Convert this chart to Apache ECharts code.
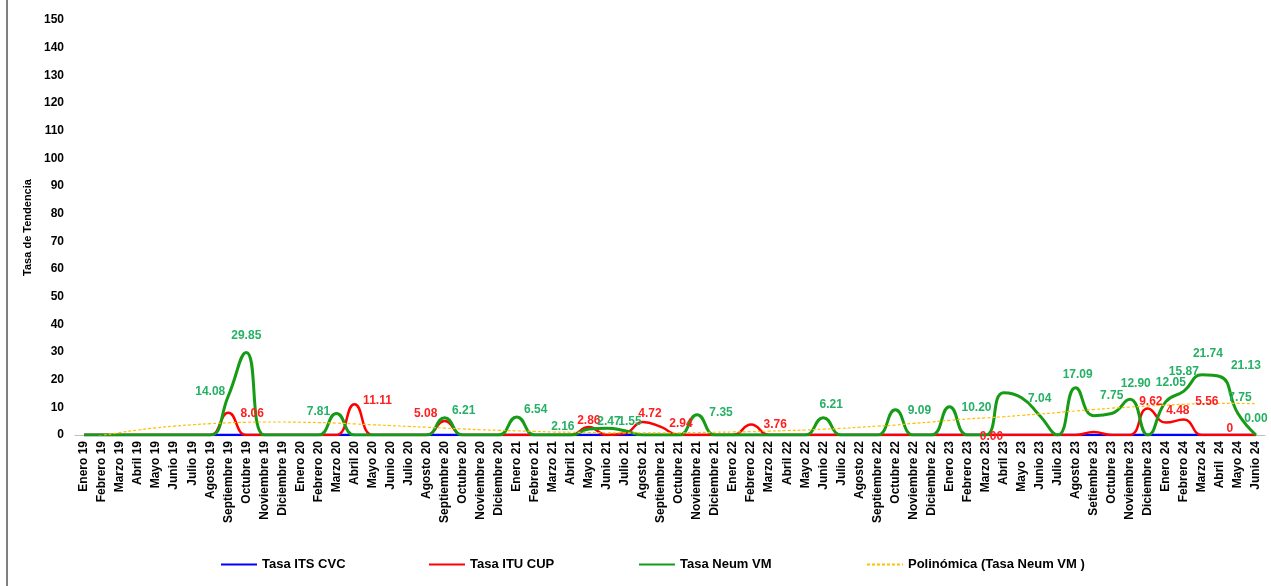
<!DOCTYPE html>
<html>
<head>
<meta charset="utf-8">
<script src="https://cdn.jsdelivr.net/npm/echarts@6/dist/echarts.min.js"></script>
<style>
html,body{margin:0;padding:0;background:#fff;}
#chart{width:1271px;height:586px;}
</style>
</head>
<body>
<div id="chart"></div>
<script>
const categories = ['Enero 19','Febrero 19','Marzo 19','Abril 19','Mayo 19','Junio 19','Julio 19','Agosto 19','Septiembre 19','Octubre 19','Noviembre 19','Diciembre 19',
'Enero 20','Febrero 20','Marzo 20','Abril 20','Mayo 20','Junio 20','Julio 20','Agosto 20','Septiembre 20','Octubre 20','Noviembre 20','Diciembre 20',
'Enero 21','Febrero 21','Marzo 21','Abril 21','Mayo 21','Junio 21','Julio 21','Agosto 21','Septiembre 21','Octubre 21','Noviembre 21','Diciembre 21',
'Enero 22','Febrero 22','Marzo 22','Abril 22','Mayo 22','Junio 22','Julio 22','Agosto 22','Septiembre 22','Octubre 22','Noviembre 22','Diciembre 22',
'Enero 23','Febrero 23','Marzo 23','Abril 23','Mayo  23','Junio 23','Julio 23','Agosto 23','Setiembre 23','Octubre 23','Noviembre 23','Diciembre 23',
'Enero 24','Febrero 24','Marzo 24','Abril  24','Mayo 24','Junio 24'];

const itsCvc = [0,0,0,0,0,0,0,0,0,0,0,0,
 0,0,0,0,0,0,0,0,0,0,0,0,
 0,0,0,0,0,0,0,0,0,0,0,0,
 0,0,0,0,0,0,0,0,0,0,0,0,
 0,0,0,0,0,0,0,0,0,0,0,0,
 0,0,0,0,0,0];

const ituCup = [0,0,0,0,0,0,0,0,8.06,0,0,0,
 0,0,0,11.11,0,0,0,0,5.08,0,0,0,
 0,0,0,0,2.86,0,0.6,4.72,2.94,0,0,0,
 0,3.76,0,0,0,0,0,0,0,0,0,0,
 0,0,0.00,0,0,0,0,0,1.1,0,0,9.62,
 4.48,5.56,0,0,0,0];

const neumVm = [0,0,0,0,0,0,0,0,14.08,29.85,0,0,
 0,0,7.81,0,0,0,0,0,6.21,0,0,0,
 6.54,0,0,0,2.16,2.47,1.55,0,0,0,7.35,0,
 0,0,0,0,0,6.21,0,0,0,9.09,0,0,
 10.20,0,0,15.3,13.5,7.04,0,17.09,7.0,7.75,12.90,0,
 12.05,15.87,21.74,21.13,7.75,0.00];

const trendNeum = [-1.5,-0.2,0.9,1.8,2.6,3.2,3.7,4.1,4.4,4.6,4.7,4.7,
 4.6,4.5,4.3,4.0,3.7,3.4,3.1,2.8,2.5,2.2,1.9,1.7,
 1.5,1.3,1.1,1.0,0.9,0.8,0.8,0.8,0.8,0.8,0.9,1.0,
 1.1,1.2,1.4,1.6,1.8,2.1,2.4,2.8,3.2,3.6,4.2,4.7,
 5.3,5.8,6.2,6.6,7.1,7.6,8.1,8.7,9.2,9.7,10.1,10.5,
 10.8,11.1,11.3,11.4,11.4,11.3];

const yTicks = [0,10,20,30,40,50,60,70,80,90,100,110,120,130,140,150];

// which points carry a data label
const neumLabeled = [8,9,14,20,24,28,29,30,34,41,45,48,53,55,57,58,60,61,62,63,64,65];
const ituLabeled = [8,15,20,28,31,32,37,50,59,60,61,63];
const ituPlainLabels = [63];

// label placement tweaks (layout, not data)
const neumOffsets = {8:[-18,7],9:[0,-5],14:[-18,10],20:[19,4],24:[19,4],28:[-26,9],29:[2,5],30:[5,2],34:[24,10],41:[8,-2],45:[24,12],48:[27,12],53:[0,-5],55:[2,-2],57:[0,-6],58:[6,-4],60:[5,-7],61:[0,-8],62:[6,-10],63:[26,1],64:[2,-4],65:[0,-5]};
const ituOffsets = {8:[24,12],15:[23,8],20:[-19,4],28:[0,5],31:[7,3],32:[20,8],37:[24,12],50:[6,13],59:[3,5],60:[12,0],61:[23,-6],63:[10,5]};

const FONT = 'Liberation Sans';

function buildData(values, labeled, offsets, plain, color) {
  return values.map(function(v, i) {
    const item = { value: v, symbol: 'none' };
    if (labeled.indexOf(i) >= 0) {
      const txt = (plain && plain.indexOf(i) >= 0) ? String(v) : v.toFixed(2);
      item.symbol = 'circle';
      item.symbolSize = 1;
      item.label = {
        show: true, position: 'top', distance: 5,
        offset: offsets[i] || [0,0],
        formatter: txt,
        color: color, fontWeight: 'bold', fontSize: 12, fontFamily: FONT
      };
    }
    return item;
  });
}

const chart = echarts.init(document.getElementById('chart'), null, {renderer:'canvas'});
const legendBase = {
  itemWidth: 36, itemHeight: 14, itemGap: 4, padding: 0,
  itemStyle: {color: 'transparent', borderWidth: 0, opacity: 0},
  textStyle: {fontFamily: FONT, fontWeight: 'bold', fontSize: 13, color: '#000'}
};
const option = {
  animation: false,
  backgroundColor: '#ffffff',
  graphic: [{
    type: 'line', shape: {x1: 7, y1: 0, x2: 7, y2: 586},
    style: {stroke: '#000', lineWidth: 1}
  }],
  grid: {left: 75, right: 6, top: 20, bottom: 151, containLabel: false},
  legend: [
    {data: ['Tasa ITS CVC'], left: 220, top: 558},
    {data: ['Tasa ITU CUP'], left: 428, top: 558},
    {data: ['Tasa Neum VM'], left: 638, top: 558},
    {data: ['Polinómica (Tasa Neum VM )'], left: 866, top: 558}
  ].map(function(l){ return Object.assign(l, legendBase); }),
  xAxis: {
    type: 'category',
    data: categories,
    boundaryGap: true,
    axisLine: {show: true, lineStyle: {color: '#bfbfbf', width: 1}},
    axisTick: {show: false},
    axisLabel: {interval: 0, rotate: 90, margin: 6, fontFamily: FONT, fontWeight: 'bold', fontSize: 12, color: '#000'},
    splitLine: {show: false}
  },
  yAxis: {
    type: 'value',
    min: yTicks[0], max: yTicks[yTicks.length-1], interval: yTicks[1]-yTicks[0],
    name: 'Tasa de Tendencia',
    nameLocation: 'middle', nameGap: 38, nameRotate: 90,
    nameTextStyle: {fontFamily: FONT, fontWeight: 'bold', fontSize: 11, color: '#000'},
    axisLine: {show: false},
    axisTick: {show: false},
    splitLine: {show: false},
    axisLabel: {margin: 11, fontFamily: FONT, fontWeight: 'bold', fontSize: 12, color: '#000'}
  },
  series: [
    {
      name: 'Tasa ITS CVC', type: 'line', smooth: true, symbol: 'none',
      data: itsCvc, color: '#0000ff',
      lineStyle: {color: '#0000ff', width: 2.5}
    },
    {
      name: 'Tasa ITU CUP', type: 'line', smooth: true, symbol: 'none', showSymbol: true, showAllSymbol: true,
      data: buildData(ituCup, ituLabeled, ituOffsets, ituPlainLabels, '#ff1f1f'), color: '#ff0000',
      itemStyle: {color: '#ff0000'},
      lineStyle: {color: '#ff0000', width: 2.5}
    },
    {
      name: 'Tasa Neum VM', type: 'line', smooth: true, symbol: 'none', showSymbol: true, showAllSymbol: true,
      data: buildData(neumVm, neumLabeled, neumOffsets, null, '#25b064'), color: '#169b16',
      itemStyle: {color: '#169b16'},
      lineStyle: {color: '#169b16', width: 3}
    },
    {
      name: 'Polinómica (Tasa Neum VM )', type: 'line', smooth: true, symbol: 'none',
      data: trendNeum, color: '#ffc000', clip: true,
      lineStyle: {color: '#ffc000', width: 1.2, type: [3, 2]}
    }
  ]
};
chart.setOption(option);
</script>
</body>
</html>
